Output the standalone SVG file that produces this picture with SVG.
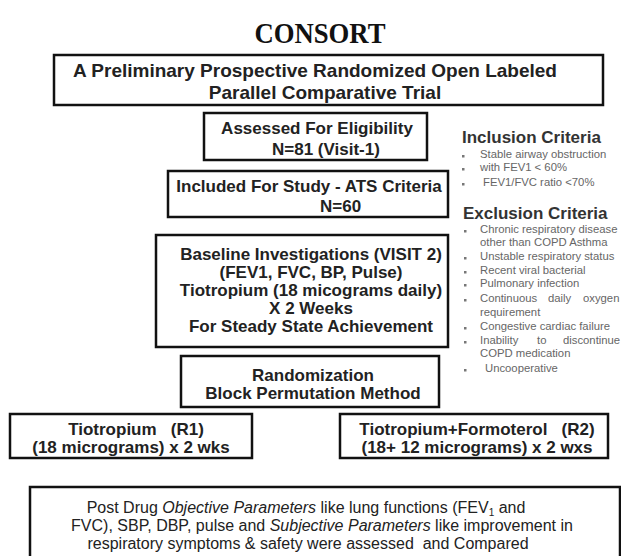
<svg xmlns="http://www.w3.org/2000/svg" width="621" height="556" viewBox="0 0 621 556">
<style>
.box{fill:#fff;stroke:#111;stroke-width:2.5}
.t{font-family:"Liberation Sans",Arial,sans-serif;font-weight:bold;font-size:17px;fill:#222;text-anchor:middle;white-space:pre}
.b1{font-size:19px}
.hd{font-family:"Liberation Sans",Arial,sans-serif;font-weight:bold;font-size:17px;fill:#333}
.li{font-family:"Liberation Sans",Arial,sans-serif;font-size:11.3px;fill:#666;white-space:pre}
.bul{fill:#777}
.bt{font-family:"Liberation Sans",Arial,sans-serif;font-size:16px;fill:#222;text-anchor:middle;white-space:pre}
</style>
<rect width="621" height="556" fill="#fff"/>
<text x="320" y="43" font-family="Liberation Serif,serif" font-weight="bold" font-size="30" fill="#111" text-anchor="middle" textLength="131" lengthAdjust="spacingAndGlyphs">CONSORT</text>
<g id="connectors"></g>
<g id="n1"><rect class="box" x="54" y="55" width="549" height="50"/>
<text class="t b1" x="315" y="77">A Preliminary Prospective Randomized Open Labeled</text>
<text class="t b1" x="325" y="99">Parallel Comparative Trial</text></g>
<g id="n2"><rect class="box" x="204" y="113" width="223" height="47"/>
<text class="t" x="317" y="134">Assessed For Eligibility</text>
<text class="t" x="272" y="155" style="text-anchor:start">N=81 (Visit-1)</text></g>
<g id="n3"><rect class="box" x="168" y="171" width="280" height="46"/>
<text class="t" x="309" y="192">Included For Study - ATS Criteria</text>
<text class="t" x="320" y="212" style="text-anchor:start">N=60</text></g>
<g id="n4"><rect class="box" x="156" y="235" width="292" height="112"/>
<text class="t" x="311" y="260">Baseline Investigations (VISIT 2)</text>
<text class="t" x="311" y="278">(FEV1, FVC, BP, Pulse)</text>
<text class="t" x="311" y="296">Tiotropium (18 micograms daily)</text>
<text class="t" x="311" y="314">X 2 Weeks</text>
<text class="t" x="311" y="332">For Steady State Achievement</text></g>
<g id="n5"><rect class="box" x="181" y="356" width="258" height="51"/>
<text class="t" x="313" y="381">Randomization</text>
<text class="t" x="313" y="399">Block Permutation Method</text></g>
<g id="r1"><rect class="box" x="10" y="414" width="242" height="44"/>
<text class="t" x="136" y="435">Tiotropium   (R1)</text>
<text class="t" x="131" y="453">(18 micrograms) x 2 wks</text></g>
<g id="r2"><rect class="box" x="340" y="414" width="268" height="44"/>
<text class="t" x="477" y="435">Tiotropium+Formoterol   (R2)</text>
<text class="t" x="477" y="453">(18+ 12 micrograms) x 2 wxs</text></g>
<g id="n6"><rect class="box" x="30" y="487" width="590" height="80"/>
<text class="bt" x="306" y="513">Post Drug <tspan font-style="italic">Objective Parameters</tspan> like lung functions (FEV<tspan font-size="10" dy="3">1</tspan><tspan dy="-3"> and</tspan></text>
<text class="bt" x="322" y="531">FVC), SBP, DBP, pulse and <tspan font-style="italic">Subjective Parameters</tspan> like improvement in</text>
<text class="bt" x="308" y="549">respiratory symptoms &amp; safety were assessed  and Compared</text></g>
<g id="inclusion">
<text class="hd" x="462" y="143">Inclusion Criteria</text>
<rect class="bul" x="462" y="155" width="2.5" height="2.5"/>
<rect class="bul" x="462" y="168" width="2.5" height="2.5"/>
<rect class="bul" x="462" y="183" width="2.5" height="2.5"/>
<text class="li" x="480" y="158">Stable airway obstruction</text>
<text class="li" x="480" y="171">with FEV1 &lt; 60%</text>
<text class="li" x="483" y="186">FEV1/FVC ratio &lt;70%</text>
</g>
<g id="exclusion">
<text class="hd" x="463" y="219">Exclusion Criteria</text>
<rect class="bul" x="464" y="230" width="2.5" height="2.5"/>
<rect class="bul" x="464" y="257" width="2.5" height="2.5"/>
<rect class="bul" x="464" y="271" width="2.5" height="2.5"/>
<rect class="bul" x="464" y="284" width="2.5" height="2.5"/>
<rect class="bul" x="464" y="299" width="2.5" height="2.5"/>
<rect class="bul" x="464" y="327" width="2.5" height="2.5"/>
<rect class="bul" x="464" y="341" width="2.5" height="2.5"/>
<rect class="bul" x="464" y="369" width="2.5" height="2.5"/>
<text class="li" x="480" y="233">Chronic respiratory disease</text>
<text class="li" x="480" y="246">other than COPD Asthma</text>
<text class="li" x="480" y="260">Unstable respiratory status</text>
<text class="li" x="480" y="274">Recent viral bacterial</text>
<text class="li" x="480" y="287">Pulmonary infection</text>
<text class="li" y="302"><tspan x="480">Continuous</tspan><tspan x="548">daily</tspan><tspan x="583">oxygen</tspan></text>
<text class="li" x="480" y="316">requirement</text>
<text class="li" x="480" y="330">Congestive cardiac failure</text>
<text class="li" y="344"><tspan x="480">Inability</tspan><tspan x="537">to</tspan><tspan x="563">discontinue</tspan></text>
<text class="li" x="480" y="357">COPD medication</text>
<text class="li" x="485" y="372">Uncooperative</text>
</g>
</svg>
